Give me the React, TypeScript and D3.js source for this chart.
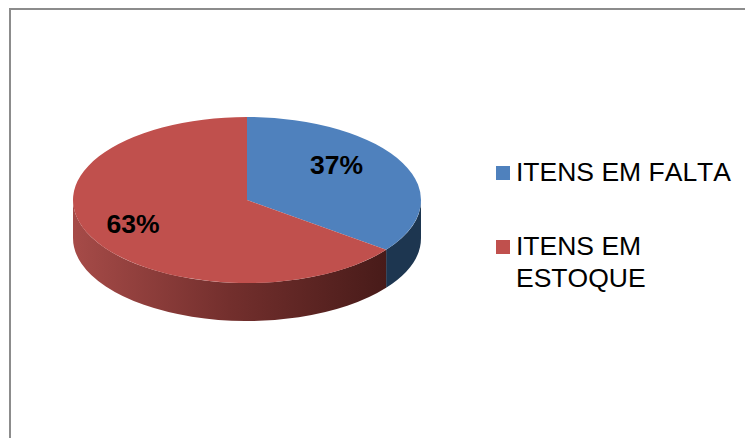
import React from "react";
import * as d3 from "d3";

const categories = ["ITENS EM FALTA", "ITENS EM ESTOQUE"];
const legendLines = [["ITENS EM FALTA"], ["ITENS EM", "ESTOQUE"]];
const percents = [37, 63];
const colors = ["#4f81bd", "#c0504d"];

const width = 745;
const height = 438;
const cx = 247;
const cy = 200;
const rx = 174;
const ry = 83;
const depth = 38;
const font = "'Liberation Sans', Arial, sans-serif";

// the 3d tilt squeezes the slices, so the drawn angle is not the real one
const tilt = (a: number) => a + (6.3 * Math.PI / 180) * Math.sin(2 * a);
const point = (a: number): [number, number] => [cx + rx * Math.sin(a), cy - ry * Math.cos(a)];

// wall of the pie between two angles on the front half
const wallPath = (a0: number, a1: number) => {
  const [x0, y0] = point(a0);
  const [x1, y1] = point(a1);
  return `M${x0},${y0}A${rx},${ry} 0 0 1 ${x1},${y1}L${x1},${y1 + depth}A${rx},${ry} 0 0 0 ${x0},${y0 + depth}Z`;
};

export default function App() {
  const slices = d3.pie<number>().sort(null)(percents);
  const arc = d3.arc<any>().innerRadius(0).outerRadius(rx);
  const pct = d3.format(".0%");
  const blueEnd = tilt(slices[0].endAngle);
  const legendY = [181, 255];
  const labelPos: [number, number][] = [[336.5, 173.5], [133, 233]];

  return (
    <svg width={width} height={height} style={{ position: "absolute", left: 0, top: 0 }}>
      <defs>
        <linearGradient id="redWall" gradientUnits="userSpaceOnUse" x1={cx - rx} x2={point(blueEnd)[0]} y1={0} y2={0}>
          <stop offset="0" stopColor="#a64b48" />
          <stop offset="0.5" stopColor="#732f2d" />
          <stop offset="1" stopColor="#481b19" />
        </linearGradient>
      </defs>
      <rect width={width} height={height} fill="#fff" />
      <path d={`M10,${height}V9H${width}`} fill="none" stroke="#8c8c8c" strokeWidth={2} />

      <path d={wallPath(Math.PI / 2, blueEnd)} fill="#1d3650" />
      <path d={wallPath(blueEnd, (3 * Math.PI) / 2)} fill="url(#redWall)" />

      {slices.map((s, i) => (
        <path
          key={categories[i]}
          d={arc({ startAngle: tilt(s.startAngle), endAngle: tilt(s.endAngle) }) as string}
          transform={`translate(${cx},${cy}) scale(1,${ry / rx})`}
          fill={colors[i]}
        />
      ))}

      {percents.map((p, i) => (
        <text key={p} x={labelPos[i][0]} y={labelPos[i][1]} textAnchor="middle" fontFamily={font} fontWeight="bold" fontSize={26.5} fill="#000">
          {pct(p / 100)}
        </text>
      ))}

      {legendLines.map((lines, i) => (
        <g key={categories[i]}>
          <rect x={496} y={legendY[i] - 15} width={14} height={14} fill={colors[i]} />
          {lines.map((t, j) => (
            <text key={t} x={516} y={legendY[i] + j * 32} fontFamily={font} fontSize={26.5} fill="#000" style={{ fontKerning: "none" }}>
              {t}
            </text>
          ))}
        </g>
      ))}
    </svg>
  );
}
